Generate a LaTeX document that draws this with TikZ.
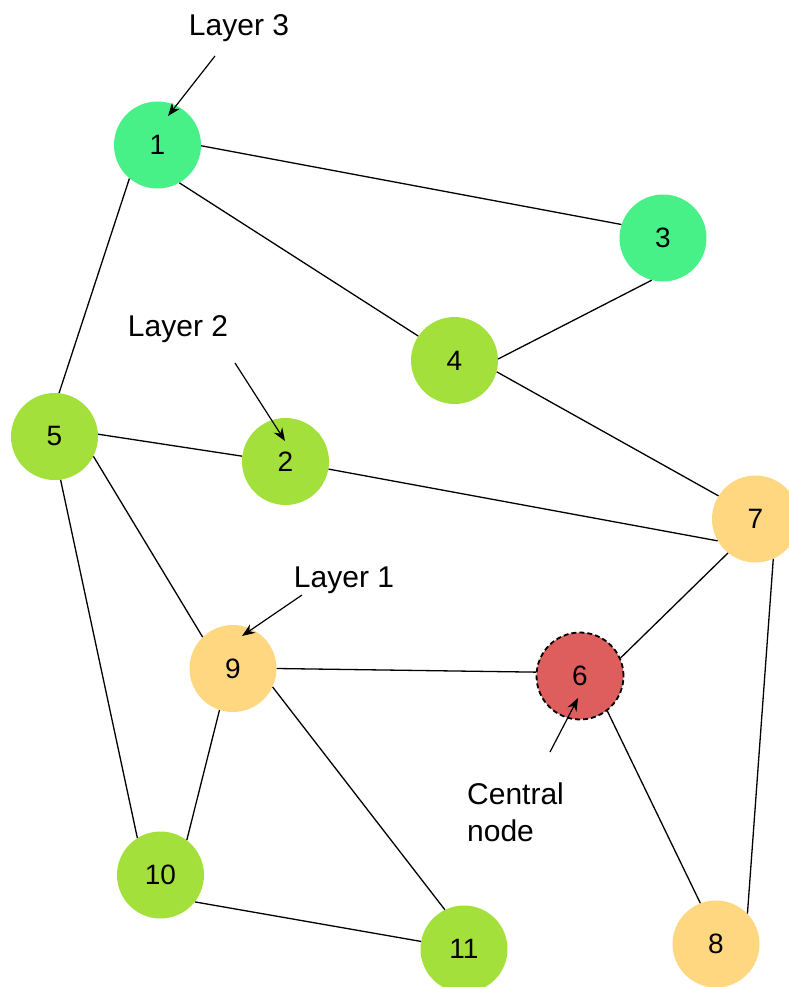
\documentclass[tikz,border=0pt]{standalone}
\usepackage{fontspec}
\setmainfont{Liberation Sans}
\usetikzlibrary{arrows.meta}
\definecolor{lgreen}{HTML}{48F088}
\definecolor{ygreen}{HTML}{A3E03B}
\definecolor{lyellow}{HTML}{FFD780}
\definecolor{cred}{HTML}{DE5D5D}
\begin{document}
\begin{tikzpicture}[x=1pt,y=-1pt,
  vert/.style={circle,minimum size=87pt,inner sep=0pt,font=\fontsize{28}{33}\selectfont},
  edge/.style={line width=1.3pt},
  lab/.style={font=\fontsize{30}{37}\selectfont,inner sep=0pt},
  ptr/.style={line width=1.2pt,-{Stealth[length=13pt,width=10pt]}}]
\useasboundingbox (0,0) rectangle (789,987);
\node[vert,fill=lgreen] (n1) at (157.5,145) {1};
\node[vert,fill=lgreen] (n3) at (663,238) {3};
\node[vert,fill=ygreen] (n4) at (454.5,360.5) {4};
\node[vert,fill=ygreen] (n5) at (54.5,436.5) {5};
\node[vert,fill=ygreen] (n2) at (285.5,461.5) {2};
\node[vert,fill=lyellow] (n7) at (755.5,519) {7};
\node[vert,fill=lyellow] (n9) at (233,668.5) {9};
\node[vert,fill=cred,draw=black,line width=1.8pt,dash pattern=on 5pt off 3pt] (n6) at (580,676) {6};
\node[vert,fill=ygreen] (n10) at (160.5,875) {10};
\node[vert,fill=ygreen] (n11) at (464,949) {11};
\node[vert,fill=lyellow] (n8) at (716,944) {8};
\draw[edge] (n1.359) -- (n3.162);
\draw[edge] (n1.300) -- (n4.146);
\draw[edge] (n1.230) -- (n5.84);
\draw[edge] (n3.255) -- (n4.2);
\draw[edge] (n4.345) -- (n7.148);
\draw[edge] (n5.3) -- (n2.173);
\draw[edge] (n2.350) -- (n7.210);
\draw[edge] (n5.333) -- (n9.134);
\draw[edge] (n5.278) -- (n10.122);
\draw[edge] (n9.0) -- (n6.175);
\draw[edge] (n9.252) -- (n10.53);
\draw[edge] (n9.335) -- (n11.116);
\draw[edge] (n6.24) -- (n7.231);
\draw[edge] (n6.308) -- (n8.111);
\draw[edge] (n7.294) -- (n8.44);
\draw[edge] (n10.322) -- (n11.170);
\node[lab] (l3) at (239,28) {Layer 3};
\node[lab] (l2) at (178,329) {Layer 2};
\node[lab] (l1) at (344,580) {Layer 1};
\node[lab,align=left,anchor=north west] (lc) at (467,783) {Central\\node};
\coordinate (a3s) at (215,56); \coordinate (a3e) at (168,116);
\coordinate (a2s) at (235,363); \coordinate (a2e) at (285,441);
\coordinate (a1s) at (302,595); \coordinate (a1e) at (242,636);
\coordinate (acs) at (550,752); \coordinate (ace) at (578,698);
\draw[ptr] (a3s) -- (a3e);
\draw[ptr] (a2s) -- (a2e);
\draw[ptr] (a1s) -- (a1e);
\draw[ptr] (acs) -- (ace);
\end{tikzpicture}
\end{document}
